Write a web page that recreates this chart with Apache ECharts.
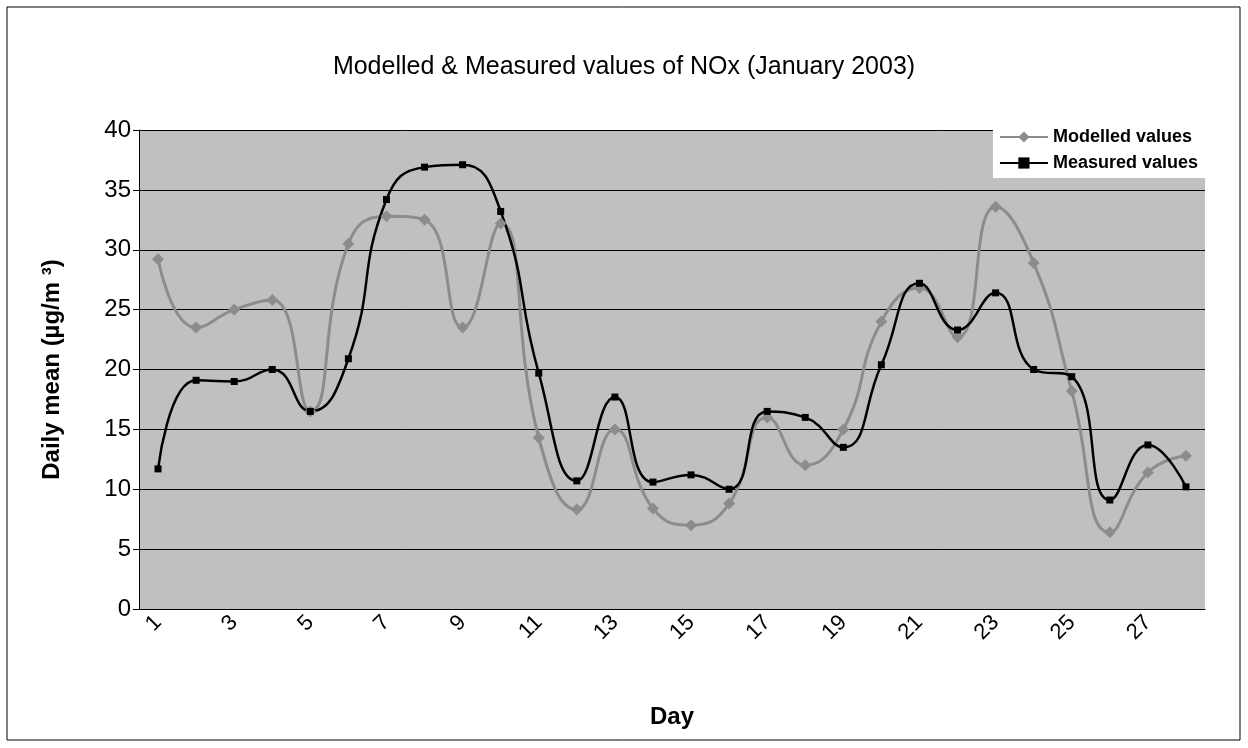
<!DOCTYPE html><html><head><meta charset="utf-8">
<script src="https://cdn.jsdelivr.net/npm/echarts@6/dist/echarts.min.js"></script>
<style>body{margin:0}#c{width:1248px;height:748px}</style></head><body>
<div id="c"></div>
<script>
const days=[];for(let i=1;i<=28;i++)days.push(String(i));
const modelled=[29.2,23.5,25,25.8,16.5,30.5,32.8,32.5,23.5,32.2,14.3,8.3,15,8.4,7,8.8,16,12,15,24,26.8,22.7,33.6,28.9,18.2,6.4,11.4,12.8];
const measured=[11.7,19.1,19,20,16.5,20.9,34.2,36.9,37.1,33.2,19.7,10.7,17.7,10.6,11.2,10,16.5,16,13.5,20.4,27.2,23.3,26.4,20,19.4,9.1,13.7,10.2];
const ch=echarts.init(document.getElementById('c'));
const F='Arial, Liberation Sans, sans-serif';
ch.setOption({
 animation:false,
 graphic:[{type:'rect',shape:{x:7,y:7,width:1233,height:733},style:{fill:'#fff',stroke:'#000',lineWidth:1},z:-10}],
 title:{text:'Modelled & Measured values of NOx (January 2003)',left:'center',top:50,textStyle:{fontFamily:F,fontSize:25,fontWeight:'normal',color:'#000'}},
 legend:{right:42,top:124,orient:'vertical',backgroundColor:'#fff',padding:[4,8,6,6],itemGap:8,itemWidth:48,
  textStyle:{fontFamily:F,fontSize:18,fontWeight:'bold',color:'#000'},
  data:['Modelled values','Measured values']},
 grid:{left:139,right:43,top:130,bottom:139},
 xAxis:{type:'category',data:days,boundaryGap:true,name:'Day',nameLocation:'middle',nameGap:96,
  nameTextStyle:{fontFamily:F,fontSize:24,fontWeight:'bold',color:'#000'},
  axisLine:{lineStyle:{color:'#000'}},axisTick:{alignWithLabel:false,length:6,lineStyle:{color:'#000'}},
  axisLabel:{interval:1,rotate:45,fontFamily:F,fontSize:22,color:'#000',margin:10}},
 yAxis:{type:'value',min:0,max:40,interval:5,name:'Daily mean (µg/m ³)',nameLocation:'middle',nameGap:75,
  nameTextStyle:{fontFamily:F,fontSize:24,fontWeight:'bold',color:'#000'},
  axisLine:{show:true,lineStyle:{color:'#000'}},axisTick:{show:true,length:6,lineStyle:{color:'#000'}},
  axisLabel:{fontFamily:F,fontSize:24,color:'#000'},
  splitLine:{lineStyle:{color:'#000',width:1}},
  splitArea:{show:true,areaStyle:{color:['#c0c0c0','#c0c0c0']}}},
 series:[
  {name:'Modelled values',type:'line',smooth:0.5,data:modelled,symbol:'diamond',symbolSize:12,
   lineStyle:{color:'#8c8c8c',width:3},itemStyle:{color:'#8c8c8c'}},
  {name:'Measured values',type:'line',smooth:0.5,data:measured,symbol:'rect',symbolSize:7,
   lineStyle:{color:'#000',width:2.5},itemStyle:{color:'#000'}}
 ]
});
</script></body></html>
